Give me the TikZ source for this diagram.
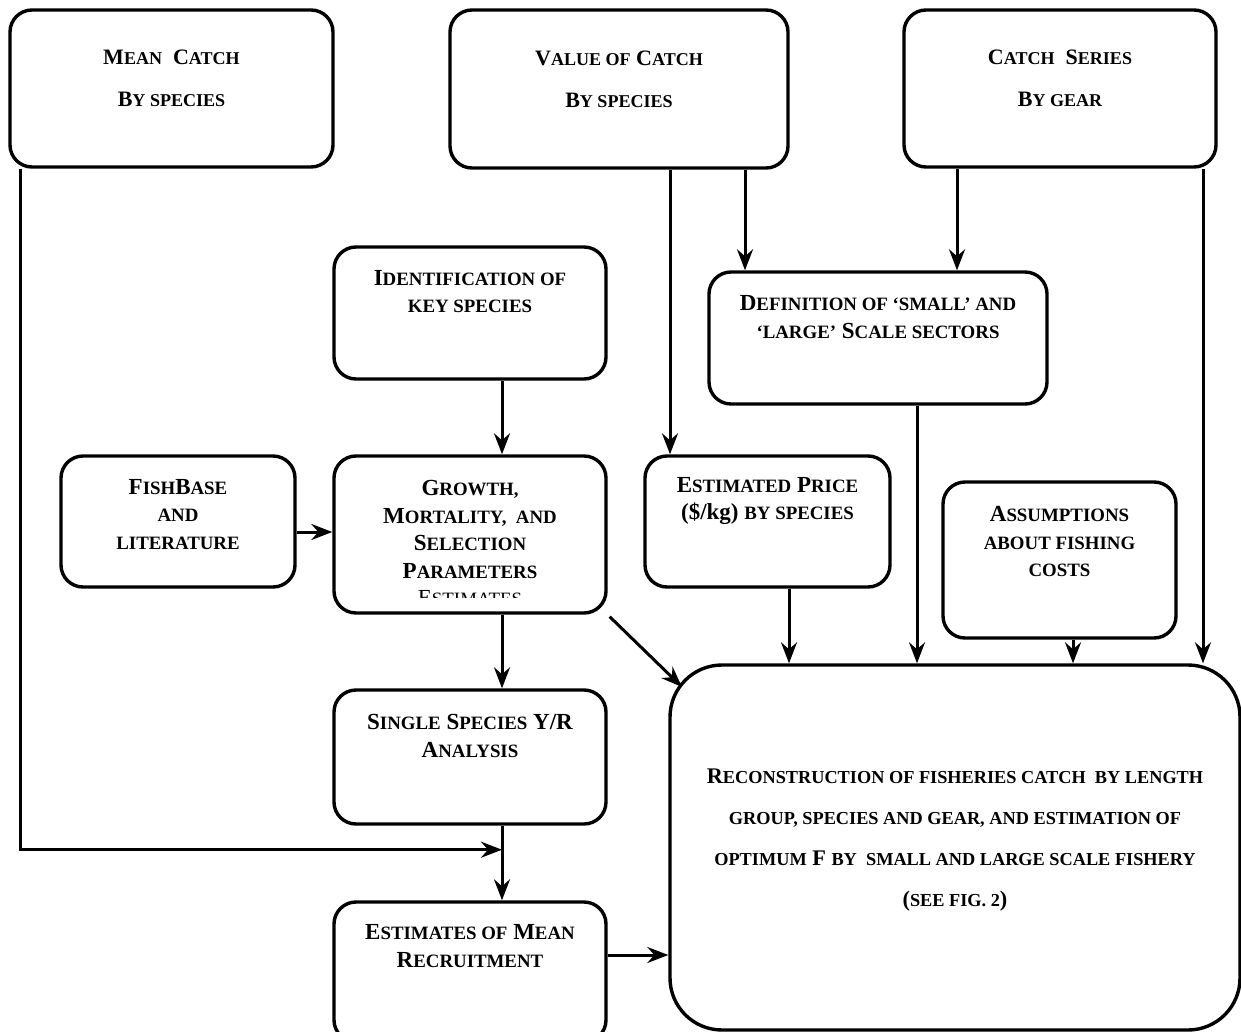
\documentclass[tikz,border=0pt]{standalone}
\usepackage{fontspec}
\setmainfont{Liberation Serif}
\usetikzlibrary{arrows.meta,calc}
\makeatletter
\newcommand\smc[1]{{\fontsize{\fpeval{0.82*\f@size}pt}{\f@baselineskip}\selectfont\MakeUppercase{#1}}}
\makeatother
\tikzset{
  box/.style={draw, line width=3.4pt, rounded corners=22pt, inner sep=0pt},
  bigbox/.style={draw, line width=3.4pt, rounded corners=52pt, inner sep=0pt},
  txt/.style={align=center, inner sep=0pt, font=\bfseries},
  toptxt/.style={txt, font=\bfseries\fontsize{22}{42}\selectfont},
  midtxt/.style={txt, font=\bfseries\fontsize{23}{27.5}\selectfont},
  rectxt/.style={txt, font=\bfseries\fontsize{22.3}{41}\selectfont},
  arr/.style={line width=3pt, -{Stealth[length=21pt,width=16pt,inset=7pt]}},
}
\begin{document}
\begin{tikzpicture}[x=1pt,y=-1pt]
\clip (0,0) rectangle (1241,1032);
% boxes
\node[box, minimum width=323pt, minimum height=157pt] (mc) at (171.5,88.5) {};
\node[box, minimum width=338pt, minimum height=158pt] (vc) at (619,89) {};
\node[box, minimum width=312pt, minimum height=157pt] (cs) at (1060,88.5) {};
\node[box, minimum width=272pt, minimum height=132pt] (id) at (470,313) {};
\node[box, minimum width=338pt, minimum height=132pt] (df) at (878,338) {};
\node[box, minimum width=234pt, minimum height=131pt] (fb) at (178,521.5) {};
\node[box, minimum width=272pt, minimum height=157pt] (gr) at (470,534.5) {};
\node[box, minimum width=245pt, minimum height=131pt] (ep) at (767.5,521.5) {};
\node[box, minimum width=233pt, minimum height=156pt] (as) at (1059.5,560) {};
\node[box, minimum width=272pt, minimum height=134pt] (sp) at (470,757) {};
\node[box, minimum width=272pt, minimum height=140pt] (em) at (470,972) {};
\node[bigbox, minimum width=570pt, minimum height=365pt] (rc) at (955,847.5) {};
% texts
\node[toptxt] (mct) at (171.5,78) {M\smc{ean}~ C\smc{atch}\\ B\smc{y species}};
\node[toptxt] (vct) at (619,79) {V\smc{alue of} C\smc{atch}\\ B\smc{y species}};
\node[toptxt] (cst) at (1060,78.5) {C\smc{atch}~ S\smc{eries}\\ B\smc{y gear}};
\node[midtxt] (idt) at (470,291.5) {I\smc{dentification of}\\ \smc{key species}};
\node[midtxt] (dft) at (878,317) {D\smc{efinition of ‘small’ and}\\ \smc{‘large’} S\smc{cale sectors}};
\node[midtxt] (fbt) at (178,514.5) {F\smc{ish}B\smc{ase}\\ \smc{and}\\ \smc{literature}};
\node[midtxt] (ept) at (767.5,501) {E\smc{stimated} P\smc{rice}\\ (\$/kg) \smc{by species}};
\node[midtxt] (ast) at (1059.5,541.5) {A\smc{ssumptions}\\ \smc{about fishing}\\ \smc{costs}};
\node[midtxt] (spt) at (470,736) {S\smc{ingle} S\smc{pecies} Y/R\\ A\smc{nalysis}};
\node[midtxt] (emt) at (470,946) {E\smc{stimates of} M\smc{ean}\\ R\smc{ecruitment}};
\node[rectxt] (rct) at (955,840) {R\smc{econstruction of fisheries catch~ by length}\\ \smc{group, species and gear, and estimation of}\\ \smc{optimum} F \smc{by~ small and large scale fishery}\\ (\smc{see fig. 2})};
\begin{scope}
\clip (336,458) rectangle (604,597);
\node[midtxt] (grt) at (470,543) {G\smc{rowth,}\\ M\smc{ortality,~ and}\\ S\smc{election}\\ P\smc{arameters}\\ {\mdseries E\smc{stimates}}};
\end{scope}
% connectors
\coordinate (j) at ($(sp.south)+(32,24)$);
\coordinate (rd) at (682,687);
\draw[arr] ([xshift=12pt]mc.south west) |- (j);
\draw[arr] ([xshift=51pt]vc.south) -- ([xshift=51pt]vc.south |- ep.north);
\draw[arr] ([xshift=126pt]vc.south) -- ([xshift=126pt]vc.south |- df.north);
\draw[arr] ([xshift=-103pt]cs.south) -- ([xshift=-103pt]cs.south |- df.north);
\draw[arr] ([xshift=143pt]cs.south) -- ([xshift=143pt]cs.south |- rc.north);
\draw[arr] ([xshift=32pt]id.south) -- ([xshift=32pt]gr.north);
\draw[arr] ([yshift=-10.5pt]fb.east) -- ([yshift=-10.5pt]fb.east -| gr.west);
\draw[arr] ([xshift=32pt]gr.south) -- ([xshift=32pt]sp.north);
\draw[arr] ([xshift=2pt,yshift=-2pt]gr.south east) -- (rd);
\draw[arr] ([xshift=32pt]sp.south) -- ([xshift=32pt]em.north);
\draw[arr] ([xshift=21.5pt]ep.south) -- ([xshift=21.5pt]ep.south |- rc.north);
\draw[arr] ([xshift=39pt]df.south) -- ([xshift=39pt]df.south |- rc.north);
\draw[arr] ([xshift=13.5pt]as.south) -- ([xshift=13.5pt]as.south |- rc.north);
\draw[arr] ([yshift=17pt]em.east) -- ([yshift=17pt]em.east -| rc.west);
\end{tikzpicture}
\end{document}
